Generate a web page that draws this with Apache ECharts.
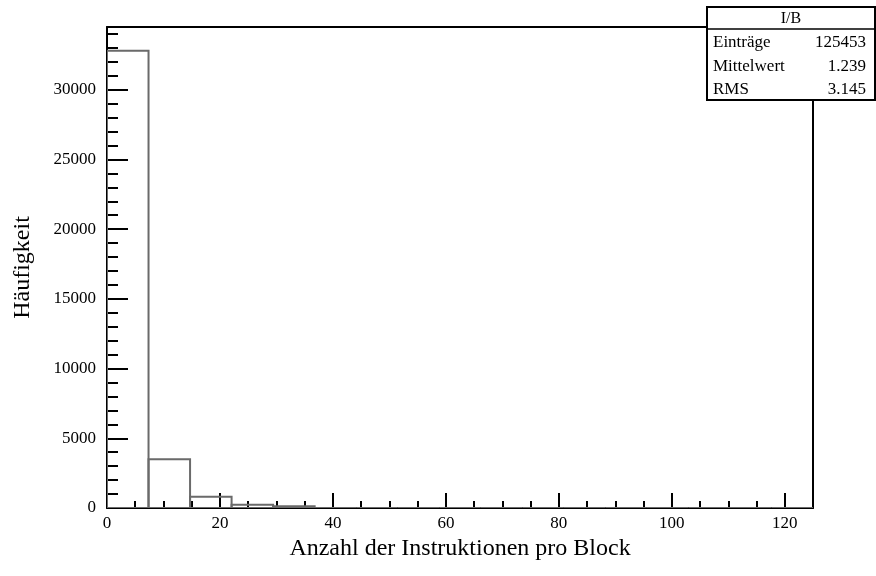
<!DOCTYPE html>
<html>
<head>
<meta charset="utf-8">
<script src="https://cdn.jsdelivr.net/npm/echarts@6/dist/echarts.min.js"></script>
<style>
html,body{margin:0;padding:0;background:#fff;}
#chart{width:876px;height:576px;}
</style>
</head>
<body>
<div id="chart"></div>
<script>
// Bin edges (17 bins over 0..125)
var binEdges = [0, 7.353, 14.706, 22.059, 29.412, 36.765, 44.118, 51.471, 58.824, 66.176, 73.529, 80.882, 88.235, 95.588, 102.941, 110.294, 117.647, 125];
// Counts per bin
var binCounts = [32800, 3500, 800, 230, 120, 0, 0, 0, 0, 0, 0, 0, 0, 0, 0, 0, 0];
var xTitle = 'Anzahl der Instruktionen pro Block';
var yTitle = 'Häufigkeit';
var statsTitle = 'I/B';
var statsLabels = ['Einträge', 'Mittelwert', 'RMS'];
var statsValues = ['125453', '1.239', '3.145'];

var FONT = 'Liberation Serif';
var data = [];
for (var i = 0; i < binCounts.length; i++) {
  data.push([binEdges[i], binEdges[i + 1], binCounts[i]]);
}

var chart = echarts.init(document.getElementById('chart'), null, {renderer: 'canvas'});

var tickStyle = {color: '#000', width: 2};
var boxLeft = 707, boxRight = 875, boxTop = 7, boxBottom = 100, headerBottom = 29;
var rowsY = [43, 67, 90];
var graphics = [
  {type: 'rect', shape: {x: boxLeft, y: boxTop, width: boxRight - boxLeft, height: boxBottom - boxTop},
   style: {fill: '#fff', stroke: '#000', lineWidth: 2}, z: 100},
  {type: 'line', shape: {x1: boxLeft, y1: headerBottom, x2: boxRight, y2: headerBottom},
   style: {stroke: '#000', lineWidth: 1.5}, z: 101},
  {type: 'text', x: (boxLeft + boxRight) / 2, y: (boxTop + headerBottom) / 2 + 1,
   style: {text: statsTitle, font: '16px "' + FONT + '"', fill: '#000', align: 'center', verticalAlign: 'middle'}, z: 101}
];
for (var r = 0; r < statsLabels.length; r++) {
  graphics.push({type: 'text', x: boxLeft + 6, y: rowsY[r],
    style: {text: statsLabels[r], font: '17px "' + FONT + '"', fill: '#000', align: 'left', verticalAlign: 'middle'}, z: 101});
  graphics.push({type: 'text', x: boxRight - 9, y: rowsY[r],
    style: {text: statsValues[r], font: '17px "' + FONT + '"', fill: '#000', align: 'right', verticalAlign: 'middle'}, z: 101});
}

var option = {
  backgroundColor: '#fff',
  animation: false,
  grid: {left: 107, right: 63, top: 27, bottom: 68, containLabel: false},
  xAxis: [{
    type: 'value', min: 0, max: 125, interval: 20, position: 'bottom',
    name: xTitle, nameLocation: 'middle', nameGap: 29,
    nameTextStyle: {fontFamily: FONT, fontSize: 24, color: '#000'},
    axisLine: {show: true, onZero: false, lineStyle: tickStyle},
    axisTick: {show: true, inside: true, length: 15, lineStyle: tickStyle},
    minorTick: {show: true, splitNumber: 4, length: 7, lineStyle: tickStyle},
    axisLabel: {fontFamily: FONT, fontSize: 17, color: '#000', margin: 7, showMaxLabel: false},
    splitLine: {show: false}
  }, {
    type: 'value', min: 0, max: 125, position: 'top',
    axisLine: {show: true, onZero: false, lineStyle: tickStyle},
    axisTick: {show: false}, axisLabel: {show: false}, splitLine: {show: false}
  }],
  yAxis: [{
    type: 'value', min: 0, max: 34500, interval: 5000, position: 'left',
    name: yTitle, nameLocation: 'middle', nameGap: 72, nameRotate: 90,
    nameTextStyle: {fontFamily: FONT, fontSize: 24, color: '#000'},
    axisLine: {show: true, onZero: false, lineStyle: tickStyle},
    axisTick: {show: true, inside: true, length: 21, lineStyle: tickStyle},
    minorTick: {show: true, splitNumber: 5, length: 11, lineStyle: tickStyle},
    axisLabel: {fontFamily: FONT, fontSize: 17, color: '#000', margin: 11, showMaxLabel: false,
      formatter: function (v) { return String(v); }},
    splitLine: {show: false}
  }, {
    type: 'value', min: 0, max: 34500, position: 'right',
    axisLine: {show: true, onZero: false, lineStyle: tickStyle},
    axisTick: {show: false}, axisLabel: {show: false}, splitLine: {show: false}
  }],
  series: [{
    type: 'custom',
    xAxisIndex: 0, yAxisIndex: 0,
    data: data,
    encode: {x: [0, 1], y: 2},
    clip: true,
    renderItem: function (params, api) {
      var p0 = api.coord([api.value(0), api.value(2)]);
      var p1 = api.coord([api.value(1), 0]);
      return {
        type: 'rect',
        shape: {x: p0[0], y: p0[1], width: p1[0] - p0[0], height: p1[1] - p0[1]},
        style: {fill: 'none', stroke: '#6a6a6a', lineWidth: 2}
      };
    },
    z: 1
  }],
  graphic: graphics
};
chart.setOption(option);
</script>
</body>
</html>
